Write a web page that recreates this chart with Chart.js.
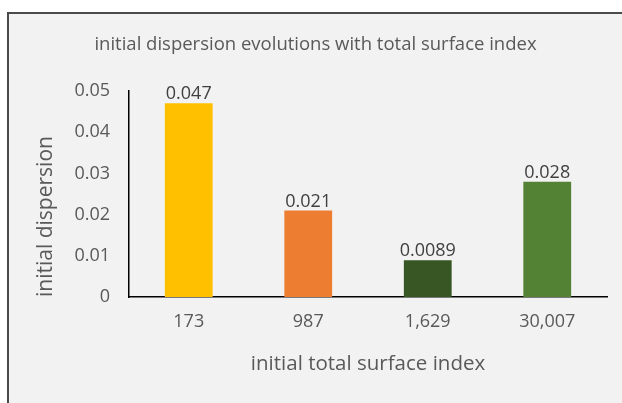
<!DOCTYPE html>
<html>
<head>
<meta charset="utf-8">
<script src="https://cdn.jsdelivr.net/npm/chart.js@4/dist/chart.umd.min.js"></script>
<style>
  html, body { margin: 0; padding: 0; background: #ffffff; }
  #frame {
    position: absolute; left: 7px; top: 12px;
    width: 613px; height: 389px;
    border-top: 2px solid #4a4a4a; border-left: 2px solid #4a4a4a;
    background: #F2F2F2;
  }
  #c { display: block; }
</style>
</head>
<body>
<div id="frame"><canvas id="c" width="613" height="389"></canvas></div>
<script>
const categories = ['173', '987', '1,629', '30,007'];
const dispersion = [0.047, 0.021, 0.0089, 0.028];
const valueLabels = ['0.047', '0.021', '0.0089', '0.028'];
const barColors = ['#FFC000', '#ED7D31', '#375623', '#548235'];
const yTicks = [0, 0.01, 0.02, 0.03, 0.04, 0.05];

const FONT = '"Open Sans", "Liberation Sans", sans-serif';

const valueLabelPlugin = {
  id: 'valueLabels',
  afterDatasetsDraw(chart) {
    const ctx = chart.ctx;
    const meta = chart.getDatasetMeta(0);
    ctx.save();
    ctx.font = '18px ' + FONT;
    ctx.fillStyle = '#404040';
    ctx.textAlign = 'center';
    ctx.textBaseline = 'bottom';
    meta.data.forEach((bar, i) => {
      ctx.fillText(valueLabels[i], bar.x, bar.y);
    });
    ctx.restore();
  }
};

new Chart(document.getElementById('c'), {
  type: 'bar',
  data: {
    labels: categories,
    datasets: [{
      data: dispersion,
      backgroundColor: barColors,
      borderWidth: 0,
      categoryPercentage: 1.0,
      barPercentage: 0.4
    }]
  },
  options: {
    responsive: false,
    animation: false,
    layout: { padding: { left: 0, right: 0, top: 0, bottom: 0 } },
    plugins: {
      legend: { display: false },
      tooltip: { enabled: false },
      title: {
        display: true,
        text: 'initial dispersion evolutions with total surface index',
        color: '#595959',
        font: { family: FONT, size: 18.5, weight: 'normal' },
        padding: { top: 20, bottom: 34.8 }
      }
    },
    scales: {
      x: {
        grid: { display: false, drawTicks: false },
        border: { display: true, color: '#000000', width: 1.5 },
        ticks: { color: '#595959', font: { family: FONT, size: 18 }, padding: 14 },
        title: {
          display: true, text: 'initial total surface index', color: '#595959',
          font: { family: FONT, size: 20.5 }, padding: { top: 0, bottom: 27 }
        },
        afterFit(s) { s.height = 106; }
      },
      y: {
        min: 0, max: 0.05,
        grid: { display: false, drawTicks: false },
        border: { display: true, color: '#000000', width: 1.5 },
        afterBuildTicks(s) { s.ticks = yTicks.map(v => ({ value: v })); },
        ticks: {
          color: '#595959', font: { family: FONT, size: 18 }, padding: 19,
          callback: v => (v === 0 ? '0' : v.toFixed(2))
        },
        title: {
          display: true, text: 'initial dispersion', color: '#595959', align: 'start',
          font: { family: FONT, size: 21 }, padding: { top: 24.5, bottom: 0 }
        },
        afterFit(s) { s.width = 120; }
      },
      spacer: {
        type: 'linear', position: 'right', display: true,
        grid: { display: false, drawTicks: false },
        border: { display: false },
        ticks: { display: false },
        afterFit(s) { s.width = 15; }
      }
    }
  },
  plugins: [valueLabelPlugin]
});
</script>
</body>
</html>
